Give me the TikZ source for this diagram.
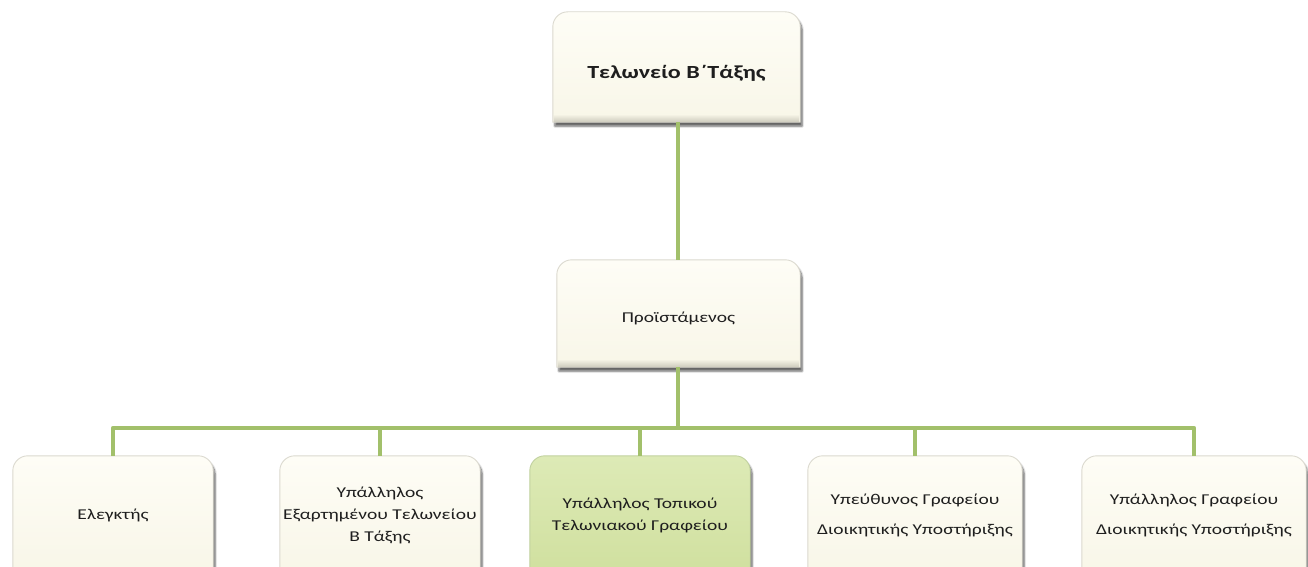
\documentclass[tikz,border=0pt]{standalone}
\usepackage{fontspec}
\setmainfont{Carlito}[FakeStretch=1.3]
\usetikzlibrary{backgrounds,shadows.blur}

\definecolor{creamtop}{HTML}{FEFDF6}
\definecolor{creambot}{HTML}{F8F6E8}
\definecolor{creamedge}{HTML}{CFCDBF}
\definecolor{greentop}{HTML}{DDEAB6}
\definecolor{greenbot}{HTML}{D0E09F}
\definecolor{greenedge}{HTML}{ACC17F}
\definecolor{linkgreen}{HTML}{A2C06B}
\definecolor{inkgray}{HTML}{1E1E1E}

\tikzset{
  cardnode/.style 2 args={minimum width=#1pt, minimum height=#2pt, inner sep=0pt,
    align=center, text=inkgray, font=\fontsize{15}{22}\selectfont},
  link/.style={draw=linkgreen, line width=4.8pt, line join=round},
}

% lower a label inside its card while keeping its box size
\newcommand\lowered[2]{\raisebox{-#1}[\height][\depth]{#2}}

% card body: rounded top corners, square bottom, soft bevel and shadow
\newcommand\cardshape[4]{%
  \path[blur shadow={shadow xshift=2pt, shadow yshift=-4pt, shadow blur steps=8, shadow opacity=60},
        top color=#2, bottom color=#3, draw=#4!75, line width=0.9pt]
    (#1.south west) [rounded corners=15pt] -- (#1.north west) -- (#1.north east)
    [sharp corners] -- (#1.south east) -- cycle;
  \shade[top color=#3, bottom color=#4] ([xshift=1pt,yshift=8pt]#1.south west)
    rectangle ([xshift=-1pt,yshift=0.5pt]#1.south east);
}

\begin{document}
\begin{tikzpicture}[x=1pt, y=-1pt]
\useasboundingbox (0,0) rectangle (1308,567);

% head office and its chief
\node[cardnode={247}{110}, font=\fontsize{18.5}{22}\selectfont\bfseries] (office) at (676.5,67)
  {\lowered{6pt}{Τελωνείο Β΄Τάξης}};
\node[cardnode={243}{107}] (chief) at (678.5,313.5) {\lowered{5pt}{Προϊστάμενος}};

% staff row
\node[cardnode={200}{118}] (inspector) at (113,515) {Ελεγκτής};
\node[cardnode={200}{118}] (branch) at (380,515)
  {Υπάλληλος\\Εξαρτημένου Τελωνείου\\Β Τάξης};
\node[cardnode={220}{118}] (local) at (640,515) {Υπάλληλος Τοπικού\\Τελωνιακού Γραφείου};
\node[cardnode={214}{118}, font=\fontsize{15}{30}\selectfont] (admhead) at (915,515)
  {Υπεύθυνος Γραφείου\\Διοικητικής Υποστήριξης};
\node[cardnode={224}{118}, font=\fontsize{15}{30}\selectfont] (admclerk) at (1194,515)
  {Υπάλληλος Γραφείου\\Διοικητικής Υποστήριξης};

\begin{scope}[on background layer]
  \cardshape{office}{creamtop}{creambot}{creamedge}
  \cardshape{chief}{creamtop}{creambot}{creamedge}
  \cardshape{inspector}{creamtop}{creambot}{creamedge}
  \cardshape{branch}{creamtop}{creambot}{creamedge}
  \cardshape{local}{greentop}{greenbot}{greenedge}
  \cardshape{admhead}{creamtop}{creambot}{creamedge}
  \cardshape{admclerk}{creamtop}{creambot}{creamedge}
\end{scope}

% connectors
\coordinate (bus) at (678,428);
\draw[link] (office.south -| bus) -- (chief.north -| bus);
\draw[link] (chief.south -| bus) -- (bus);
\draw[link] (inspector.north) |- (bus) -| (admclerk.north);
\draw[link] (bus -| branch.north) -- (branch.north);
\draw[link] (bus -| local.north) -- (local.north);
\draw[link] (bus -| admhead.north) -- (admhead.north);
\end{tikzpicture}
\end{document}
